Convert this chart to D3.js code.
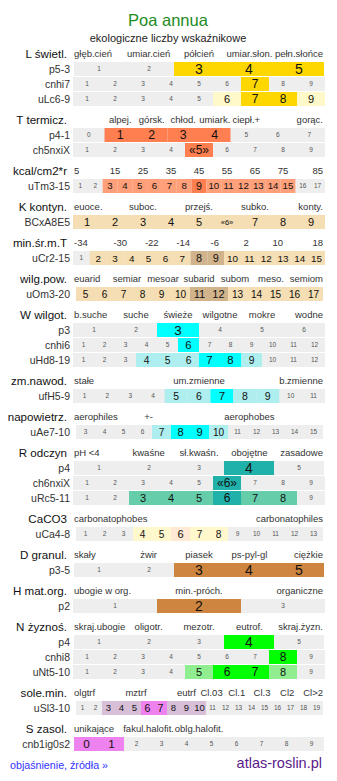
<!DOCTYPE html>
<head>
  <meta charset="utf-8">
  <script src="https://d3js.org/d3.v7.min.js"></script>
  <style>
    body { margin: 0; background: #fff; }
    svg { width: 337px; height: 781px; font-family: 'Liberation Sans', Arial, sans-serif; }
    .head { font-size: 11.6px; fill: #111; }
    .cat { font-size: 9.5px; fill: #333; }
    .rname { font-size: 10.5px; fill: #333; }
  </style>
</head>

<body>
  <svg></svg>

  <script>
    // category labels over each scale ('' = empty slot)
    const lightLabels = ['głęb.cień', 'umiar.cień', 'półcień', 'umiar.słon.', 'pełn.słońce'];
    const tempLabels = ['', 'alpej.', 'górsk.', 'chłod.', 'umiark.', 'ciepł.+', '', 'gorąc.'];
    const kcalLabels = ['5', '15', '25', '35', '45', '55', '65', '75', '85'];
    const contLabels = ['euoce.', '', 'suboc.', '', 'przejś.', '', 'subko.', '', 'konty.'];
    const minTLabels = ['-34', '-30', '-22', '-14', '-6', '2', '10', '18'];
    const humLabels = ['euarid', 'semiar', 'mesoar', 'subarid', 'subom', 'meso.', 'semiom'];
    const wetLabels = ['b.suche', 'suche', 'świeże', 'wilgotne', 'mokre', 'wodne'];
    const fluctLabels = ['stałe', 'um.zmienne', 'b.zmienne'];
    const aerLabels = ['aerophiles', '+-', '', 'aerophobes', ''];
    const phLabels = ['pH <4', 'kwaśne', 'sł.kwaśn.', 'obojętne', 'zasadowe'];
    const caLabels = ['carbonatophobes', 'carbonatophiles'];
    const grainLabels = ['skały', 'żwir', 'piasek', 'ps-pyl-gl', 'ciężkie'];
    const orgLabels = ['ubogie w org.', 'min.-próch.', 'organiczne'];
    const nutLabels = ['skraj.ubogie', 'oligotr.', 'mezotr.', 'eutrof.', 'skraj.żyzn.'];
    const saltLabels = ['olgtrf', '', 'mztrf', '', 'eutrf', 'Cl.03', 'Cl.1', 'Cl.3', 'Cl2', 'Cl>2'];
    const halLabels = ['unikające', 'fakul.halofit.', 'oblg.halofit.', '', ''];

    // rows: [name, first, last, main values, secondary values, «value»]
    const lightRows = [
      ['p5-3', 1, 5, [3, 4, 5], []],
      ['cnhi7', 1, 9, [7], []],
      ['uLc6-9', 1, 9, [7, 8], [6, 9]],
    ];
    const tempRows = [
      ['p4-1', 0, 7, [1, 2, 3, 4], []],
      ['ch5nxiX', 1, 9, [5], [], 5],
    ];
    const kcalRows = [
      ['uTm3-15', 1, 17, [9], [3, 4, 5, 6, 7, 8, 10, 11, 12, 13, 14, 15]],
    ];
    const contRows = [
      ['BCxA8E5', 1, 9, [], [1, 2, 3, 4, 5, 6, 7, 8, 9], 6],
    ];
    const minTRows = [
      ['uCr2-15', 1, 15, [8, 9], [2, 3, 4, 5, 6, 7, 10, 11, 12, 13, 14, 15]],
    ];
    const humRows = [
      ['uOm3-20', 5, 17, [11, 12], [5, 6, 7, 8, 9, 10, 13, 14, 15, 16, 17]],
    ];
    const wetRows = [
      ['p3', 1, 6, [3], []],
      ['cnhi6', 1, 12, [6], []],
      ['uHd8-19', 1, 12, [7, 8], [4, 5, 6, 9]],
    ];
    const fluctRows = [
      ['ufH5-9', 1, 11, [7], [5, 6, 8, 9]],
    ];
    const aerRows = [
      ['uAe7-10', 3, 15, [8, 9], [7, 10]],
    ];
    const phRows = [
      ['p4', 1, 5, [4], []],
      ['ch6nxiX', 1, 9, [6], [], 6],
      ['uRc5-11', 1, 9, [6], [3, 4, 5, 7, 8]],
    ];
    const caRows = [
      ['uCa4-8', 1, 13, [6], [4, 5, 7, 8]],
    ];
    const grainRows = [
      ['p3-5', 1, 5, [3, 4, 5], []],
    ];
    const orgRows = [
      ['p2', 1, 3, [2], []],
    ];
    const nutRows = [
      ['p4', 1, 5, [4], []],
      ['cnhi8', 1, 9, [8], []],
      ['uNt5-10', 1, 9, [6, 7], [5, 8]],
    ];
    const saltRows = [
      ['uSl3-10', 1, 19, [6, 7], [3, 4, 5, 8, 9, 10]],
    ];
    const halRows = [
      ['cnb1ig0s2', 0, 9, [0, 1], []],
    ];

    // colours [main, secondary]
    const yellow = ['#ffd700', '#fff8c8'];
    const salmon = ['#ff7f50', '#ffa07a'];
    const wheat = ['#d2b48c', '#f5deb3'];
    const cyan = ['#00ffff', '#afeeee'];
    const teal = ['#20b2aa', '#66cdaa'];
    const chalk = ['#ffe8d4', '#fff8cc'];
    const brown = ['#cd853f', '#cd853f'];
    const green = ['#00ff00', '#90ee90'];
    const violet = ['#ee82ee', '#d8bfd8'];

    const blocks = [
      ['L świetl.', lightLabels, lightRows, yellow],
      ['T termicz.', tempLabels, tempRows, salmon],
      ['kcal/cm2*r', kcalLabels, kcalRows, salmon],
      ['K kontyn.', contLabels, contRows, wheat],
      ['min.śr.m.T', minTLabels, minTRows, wheat],
      ['wilg.pow.', humLabels, humRows, wheat],
      ['W wilgot.', wetLabels, wetRows, cyan],
      ['zm.nawod.', fluctLabels, fluctRows, cyan],
      ['napowietrz.', aerLabels, aerRows, cyan],
      ['R odczyn', phLabels, phRows, teal],
      ['CaCO3', caLabels, caRows, chalk],
      ['D granul.', grainLabels, grainRows, brown],
      ['H mat.org.', orgLabels, orgRows, brown],
      ['N żyznoś.', nutLabels, nutRows, green],
      ['sole.min.', saltLabels, saltRows, violet],
      ['S zasol.', halLabels, halRows, violet],
    ];

    const svg = d3.select('svg');
    const left = 73, right = 325, full = right - left;

    svg.append('text')
      .attr('x', 168).attr('y', 20).attr('dy', '0.35em')
      .attr('text-anchor', 'middle')
      .attr('font-size', 16.5).attr('fill', '#228b22')
      .text('Poa annua');
    svg.append('text')
      .attr('x', 168).attr('y', 38).attr('dy', '0.35em')
      .attr('text-anchor', 'middle')
      .attr('font-size', 11).attr('fill', '#222')
      .text('ekologiczne liczby wskaźnikowe');

    // cell scale for one row, whole px cells when the fraction is small
    function rowScale(vals) {
      const n = vals.length;
      let step = full / n, x0 = left;
      if (step % 1 > 0 && step % 1 < 0.45) {
        step = Math.floor(step);
        x0 = left + Math.round((full - step * n) / 2);
      }
      return d3.scaleBand().domain(vals).range([x0, x0 + step * n]);
    }

    let y = 54;
    blocks.forEach(([name, labels, rows, col]) => {
      svg.append('text').attr('class', 'head')
        .attr('x', 67).attr('y', y).attr('dy', '0.35em')
        .attr('text-anchor', 'end')
        .text(name);

      const n = labels.length;
      const slots = d3.scaleBand().domain(d3.range(n)).range([left, right]);
      svg.selectAll(null)
        .data(labels.map((t, i) => ({ t, i })).filter(d => d.t))
        .enter().append('text').attr('class', 'cat')
        .attr('x', d => d.i === 0 ? left + 1 : d.i === n - 1 ? right - 2 : slots(d.i) + slots.bandwidth() / 2)
        .attr('y', y).attr('dy', '0.35em')
        .attr('text-anchor', d => d.i === 0 ? 'start' : d.i === n - 1 ? 'end' : 'middle')
        .text(d => d.t);

      y += 8;
      rows.forEach(([rname, first, last, main, second, mark]) => {
        const vals = d3.range(first, last + 1);
        const x = rowScale(vals);
        const w = x.bandwidth();
        // bigger digits in wider cells
        const big = Math.min(14, 10.5 + (w - 13) * 0.1);
        const g = svg.append('g').attr('transform', `translate(0,${y})`);

        g.append('text').attr('class', 'rname')
          .attr('x', 70).attr('y', 7).attr('dy', '0.35em')
          .attr('text-anchor', 'end')
          .text(rname);

        g.append('rect')
          .attr('x', x.range()[0]).attr('y', 0)
          .attr('width', x.range()[1] - x.range()[0]).attr('height', 14)
          .attr('fill', '#eeeeee');

        const cells = vals.map(v => ({
          v,
          level: main.includes(v) ? 2 : second.includes(v) ? 1 : 0,
          mark: v === mark,
        }));

        g.selectAll('rect.c')
          .data(cells.filter(d => d.level > 0)).enter().append('rect')
          .attr('class', 'c')
          .attr('x', d => x(d.v)).attr('y', 0)
          .attr('width', w).attr('height', 14)
          .attr('fill', d => d.level === 2 ? col[0] : col[1]);

        g.selectAll('text.n')
          .data(cells).enter().append('text')
          .attr('class', 'n')
          .attr('x', d => x(d.v) + w / 2)
          .attr('y', 7).attr('dy', '0.36em')
          .attr('text-anchor', 'middle')
          .attr('font-size', d => d.mark && d.level < 2 ? 7.5 : [6.5, big - 1, big][d.level])
          .attr('fill', d => d.level ? '#111' : '#555')
          .text(d => d.mark ? `«${d.v}»` : d.v);

        y += 15;
      });
      y += 13;
    });

    svg.append('text')
      .attr('x', 10).attr('y', y).attr('dy', '0.35em')
      .attr('font-size', 10.7).attr('fill', '#3333ff')
      .text('objaśnienie, źródła »');
    svg.append('text')
      .attr('x', 322).attr('y', y - 2).attr('dy', '0.35em')
      .attr('text-anchor', 'end')
      .attr('font-size', 14.5).attr('fill', '#5a1a8a')
      .text('atlas-roslin.pl');
  </script>
</body>
